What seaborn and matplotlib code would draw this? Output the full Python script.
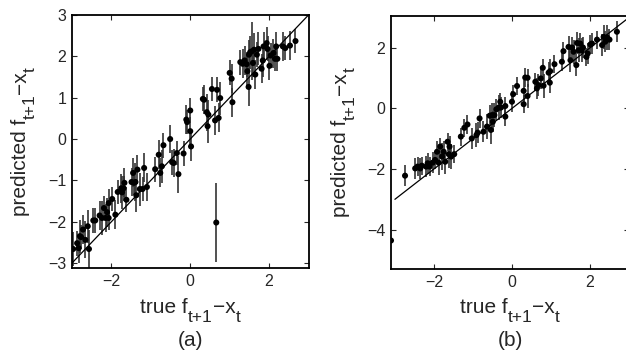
"""
Predicted vs true f(t+1) - x(t), two panels with error bars
"""

import numpy as np
import pandas as pd
import matplotlib
matplotlib.use('Agg')
import matplotlib.pyplot as plt
import seaborn as sns

# panel (a) values
a_true = [-2.97, -2.87, -2.83, -2.80, -2.77, -2.72, -2.66, -2.60, -2.57, -2.46,
          -2.41, -2.30, -2.24, -2.19, -2.15, -2.11, -2.07, -2.07, -1.98, -1.90,
          -1.84, -1.75, -1.73, -1.69, -1.67, -1.62, -1.49, -1.45, -1.43, -1.39,
          -1.37, -1.34, -1.28, -1.21, -1.17, -1.10, -0.89, -0.80, -0.76, -0.72,
          -0.68, -0.51, -0.46, -0.42, -0.34, -0.30, -0.17, -0.10, -0.08, 0.00,
          0.00, 0.02, 0.32, 0.35, 0.42, 0.44, 0.46, 0.55, 0.63, 0.68,
          0.72, 0.76, 0.66, 1.00, 1.05, 1.07, 1.27, 1.33, 1.38, 1.43,
          1.45, 1.48, 1.49, 1.52, 1.56, 1.59, 1.62, 1.65, 1.69, 1.73,
          1.81, 1.84, 1.86, 1.94, 1.96, 2.01, 2.04, 2.11, 2.15, 2.18,
          2.21, 2.35, 2.41, 2.53, 2.67]
a_pred = [-2.66, -2.52, -2.64, -2.35, -2.37, -2.19, -2.44, -2.11, -2.66, -1.97,
          -1.97, -1.85, -1.91, -1.67, -1.91, -1.77, -1.91, -1.55, -1.45, -1.83,
          -1.28, -1.19, -1.29, -1.19, -1.06, -1.47, -1.04, -0.82, -1.06, -1.04,
          -1.36, -0.74, -1.21, -1.21, -0.70, -1.16, -0.73, -0.38, -0.82, -0.66,
          -0.15, 0.00, -0.56, -0.58, -0.34, -0.85, -0.35, 0.47, 0.41, 0.19,
          0.69, -0.18, 0.97, 0.95, 0.65, 0.31, 0.59, 1.21, 0.45, 1.19,
          0.51, 0.99, -2.02, 1.60, 1.46, 0.89, 1.86, 1.82, 1.90, 1.81,
          1.64, 1.26, 2.04, 2.10, 2.12, 1.84, 2.16, 1.56, 2.04, 2.18,
          1.70, 1.90, 2.24, 2.32, 2.18, 1.77, 2.02, 2.08, 1.94, 2.24,
          1.94, 2.24, 2.20, 2.26, 2.37]
a_err = [0.40, 0.30, 0.35, 0.40, 0.30, 0.35, 0.45, 0.40, 0.45, 0.30,
         0.30, 0.35, 0.40, 0.30, 0.35, 0.35, 0.30, 0.35, 0.30, 0.35,
         0.30, 0.35, 0.40, 0.30, 0.35, 0.30, 0.35, 0.35, 0.30, 0.45,
         0.40, 0.35, 0.40, 0.30, 0.35, 0.35, 0.30, 0.35, 0.35, 0.40,
         0.30, 0.35, 0.30, 0.35, 0.30, 0.45, 0.30, 0.35, 0.30, 0.35,
         0.30, 0.35, 0.30, 0.35, 0.45, 0.40, 0.35, 0.30, 0.35, 0.30,
         0.35, 0.40, 0.95, 0.30, 0.35, 0.35, 0.30, 0.35, 0.35, 0.30,
         0.40, 0.45, 0.35, 0.40, 0.70, 0.35, 0.40, 0.35, 0.30, 0.40,
         0.35, 0.40, 0.35, 0.40, 0.30, 0.35, 0.30, 0.35, 0.30, 0.35,
         0.30, 0.35, 0.30, 0.35, 0.30]

# panel (b) values
b_true = [-3.10, -2.74, -2.48, -2.42, -2.35, -2.31, -2.20, -2.16, -2.11, -2.03,
          -1.97, -1.92, -1.88, -1.84, -1.79, -1.75, -1.71, -1.65, -1.62, -1.60,
          -1.56, -1.48, -1.31, -1.22, -1.14, -1.03, -0.91, -0.88, -0.83, -0.73,
          -0.64, -0.57, -0.54, -0.51, -0.49, -0.45, -0.40, -0.34, -0.30, -0.28,
          -0.17, -0.17, 0.00, 0.03, 0.13, 0.30, 0.30, 0.34, 0.40, 0.40,
          0.60, 0.64, 0.68, 0.74, 0.79, 0.81, 0.94, 0.97, 0.98, 1.09,
          1.28, 1.32, 1.45, 1.50, 1.54, 1.58, 1.65, 1.67, 1.71, 1.75,
          1.79, 1.82, 1.91, 1.94, 2.01, 2.05, 2.18, 2.31, 2.35, 2.39,
          2.44, 2.50, 2.69]
b_pred = [-4.36, -2.22, -1.98, -1.92, -1.98, -1.89, -1.92, -1.81, -1.92, -1.79,
          -1.70, -1.43, -1.79, -1.26, -1.59, -1.43, -1.76, -1.10, -1.51, -1.26,
          -1.59, -1.51, -0.93, -0.64, -0.53, -0.99, -0.88, -0.80, -0.33, -0.77,
          -0.60, -0.24, -0.71, -0.22, -0.44, -0.22, -0.03, 0.03, 0.22, 0.03,
          -0.27, 0.08, 0.22, 0.47, 0.74, 0.58, 0.14, 1.02, 1.01, 0.41,
          0.88, 0.66, 0.77, 0.99, 1.34, 0.75, 1.18, 0.85, 1.23, 1.46,
          1.54, 1.89, 2.03, 1.59, 2.01, 1.87, 1.43, 2.16, 1.92, 2.14,
          1.92, 2.01, 1.70, 1.81, 2.11, 2.14, 2.27, 2.09, 2.36, 2.20,
          2.34, 2.27, 2.53]
b_err = [0.05, 0.35, 0.35, 0.30, 0.35, 0.30, 0.35, 0.35, 0.30, 0.35,
         0.30, 0.35, 0.40, 0.30, 0.45, 0.35, 0.40, 0.30, 0.45, 0.35,
         0.40, 0.30, 0.30, 0.30, 0.30, 0.35, 0.40, 0.35, 0.30, 0.35,
         0.40, 0.35, 0.45, 0.40, 0.35, 0.40, 0.35, 0.40, 0.30, 0.35,
         0.30, 0.30, 0.35, 0.30, 0.30, 0.35, 0.30, 0.30, 0.30, 0.40,
         0.30, 0.35, 0.35, 0.35, 0.30, 0.40, 0.35, 0.35, 0.40, 0.30,
         0.30, 0.30, 0.35, 0.40, 0.35, 0.40, 0.35, 0.35, 0.40, 0.35,
         0.40, 0.35, 0.30, 0.35, 0.30, 0.35, 0.30, 0.35, 0.40, 0.35,
         0.40, 0.35, 0.35]

ref_line = [-3, 3]
x_ticks = [-2, 0, 2]
a_ticks_y = [-3, -2, -1, 0, 1, 2, 3]
b_ticks_y = [-4, -2, 0, 2]

sns.set_style('ticks')
plt.rcParams['font.family'] = ['Liberation Sans', 'DejaVu Sans']
plt.rcParams['xtick.direction'] = 'in'
plt.rcParams['ytick.direction'] = 'in'

W, H = 626, 354
fig = plt.figure(figsize=(W / 100, H / 100), dpi=100)
ax_a = fig.add_axes([72 / W, 1 - 268 / H, 236.5 / W, 253 / H])
ax_b = fig.add_axes([391 / W, 1 - 269 / H, 238 / W, 253 / H])

MAIN, SUB, DROP = 15, 12.5, 9


def mixed_label(pieces, x, y, rotation=0):
    # write text with dropped subscripts, centred on (x, y) in pixels
    r = fig.canvas.get_renderer()
    widths = []
    for s, fs, _ in pieces:
        t = fig.text(0, 0, s, fontsize=fs)
        widths.append(t.get_window_extent(r).width)
        t.remove()
    pos = -sum(widths) / 2
    for (s, fs, drop), w in zip(pieces, widths):
        if rotation == 0:
            px, py = x + pos, y - drop
        else:
            px, py = x + drop, y + pos
        fig.text(px / W, py / H, s, fontsize=fs, rotation=rotation,
                 rotation_mode='anchor', ha='left', va='baseline')
        pos += w


def label_pieces(word):
    return [(word + ' f', MAIN, 0), ('t+1', SUB, DROP),
            ('\u2212x', MAIN, 0), ('t', SUB, DROP)]


panels = [
    (ax_a, a_true, a_pred, a_err, (-3, 3), (-3.12, 3.0), a_ticks_y, '(a)', 26),
    (ax_b, b_true, b_pred, b_err, (-3.1, 3.0), (-5.3, 3.05), b_ticks_y, '(b)', 346),
]

for ax, xt, yp, er, xl, yl, yt, tag, ylab_x in panels:
    df = pd.DataFrame({'true': xt, 'pred': yp, 'err': er})
    ax.errorbar(df['true'], df['pred'], yerr=df['err'], fmt='none',
                ecolor='#333333', elinewidth=1.2, capsize=0, zorder=2)
    sns.scatterplot(data=df, x='true', y='pred', ax=ax, color='black',
                    s=19, edgecolor='none', zorder=3)
    sns.lineplot(x=ref_line, y=ref_line, ax=ax, color='black', lw=0.9, zorder=4)
    ax.set_xlim(*xl)
    ax.set_ylim(*yl)
    ax.set_xticks(x_ticks)
    ax.set_yticks(yt)
    ax.set_xticklabels([str(v).replace('-', '\u2212') for v in x_ticks])
    ax.set_yticklabels([str(v).replace('-', '\u2212') for v in yt])
    ax.tick_params(top=True, right=True, length=3.5, width=0.8,
                   labelsize=11.5, pad=4)
    for sp in ax.spines.values():
        sp.set_linewidth(1.3)
        sp.set_color('black')
    ax.set_xlabel('')
    ax.set_ylabel('')

    pos = ax.get_position()
    cx = (pos.x0 + pos.width / 2) * W
    cy = (pos.y0 + pos.height / 2) * H
    mixed_label(label_pieces('true'), cx, 41)
    mixed_label(label_pieces('predicted'), ylab_x, cy, rotation=90)
    fig.text(cx / W, 13 / H, tag, ha='center', va='center', fontsize=MAIN)

fig.savefig('out.png', dpi=100)
